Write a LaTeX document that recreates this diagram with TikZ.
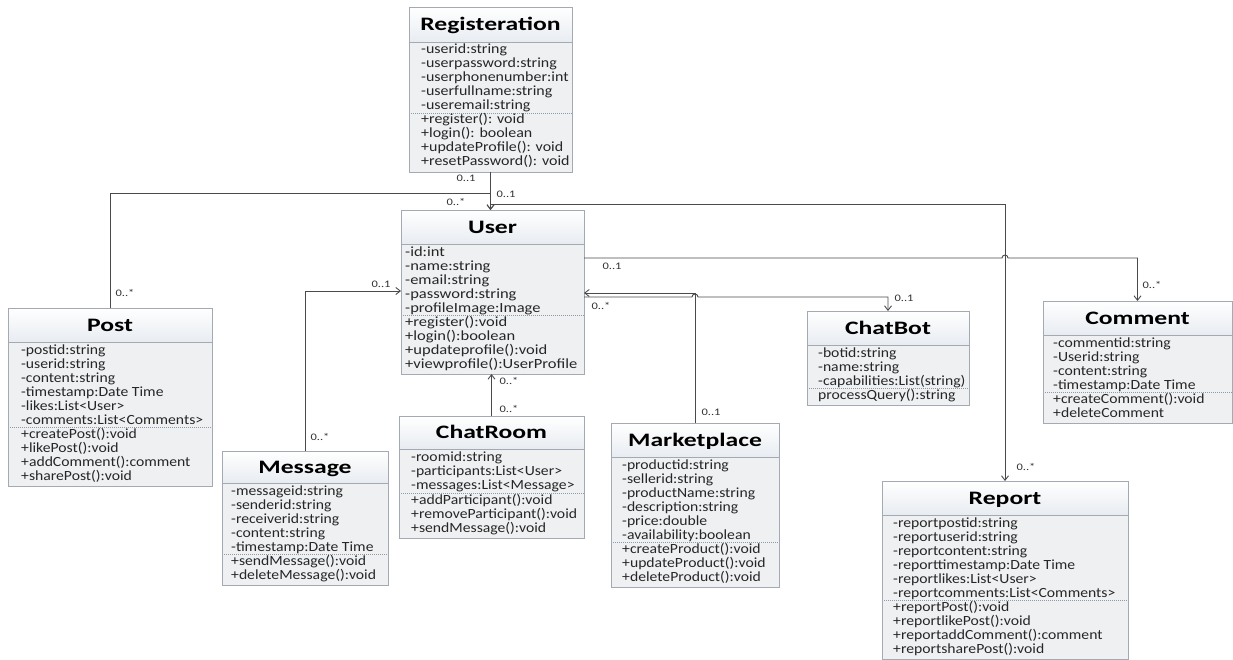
\documentclass[tikz,border=0pt]{standalone}
\usepackage{fontspec}
\setmainfont{Carlito}
\newfontfamily\memberfont[FakeStretch=1.12]{Carlito}
\newfontfamily\memberfontwide[FakeStretch=1.18]{Carlito}
\newfontfamily\memberfontreg[FakeStretch=1.14]{Carlito}
\newfontfamily\headfont[FakeStretch=1.35]{Carlito}
\newfontfamily\multfont[FakeStretch=1.25]{Carlito}
\usetikzlibrary{arrows.meta}

\definecolor{boxline}{HTML}{A3AAB3}
\definecolor{bodyfill}{HTML}{EEF0F2}
\definecolor{headfill}{HTML}{E8ECF1}
\definecolor{sepline}{HTML}{8E9AAA}
\definecolor{wire}{HTML}{4A4A4A}
\definecolor{membertext}{HTML}{262626}
\definecolor{multtext}{HTML}{333333}

% font used for the member lines of the class being drawn
\let\curmemberfont\memberfont

\tikzset{
  classbody/.style={rectangle, fill=bodyfill, draw=none, inner sep=0pt, outer sep=0pt},
  classframe/.style={draw=boxline, line width=0.8pt},
  headtext/.style={font=\headfont\bfseries\fontsize{19}{19}\selectfont,
    text height=12.2pt, text depth=0pt, inner sep=0pt, text=black},
  member/.style={font=\curmemberfont\fontsize{14}{14}\selectfont,
    inner sep=0pt, text=membertext, anchor=base west},
  mult/.style={font=\multfont\fontsize{10}{10}\selectfont, inner sep=0pt, text=multtext},
  assoc/.style={draw=wire, line width=0.9pt, -{Straight Barb[length=4.5pt,width=7pt]}},
  sepdots/.style={draw=sepline, line width=0.7pt, dash pattern=on 1pt off 1pt},
}

% geometry: name, left, top, right, head bottom, separator, bottom, text inset
\def\umlparse#1,#2,#3,#4,#5,#6,#7,#8\relax{%
  \def\cname{#1}\def\cL{#2}\def\cT{#3}\def\cR{#4}%
  \def\cTB{#5}\def\cS{#6}\def\cB{#7}\def\cI{#8}}
\newcommand\umlclass[4]{%
  \umlparse#1\relax
  \pgfmathsetmacro\cW{\cR-\cL}%
  \pgfmathsetmacro\cH{\cB-\cT}%
  \node[classbody, anchor=north west, minimum width=\cW pt, minimum height=\cH pt]
    (\cname) at (\cL,-\cT) {};
  \shade[top color=white, bottom color=headfill] (\cL,-\cT) rectangle (\cR,-\cTB);
  \draw[draw=boxline, line width=0.6pt] (\cL,-\cTB) -- (\cR,-\cTB);
  \draw[sepdots] (\cL,-\cS) -- (\cR,-\cS);
  \draw[classframe] (\cname.north west) rectangle (\cname.south east);
  \node[headtext] (\cname-head) at ({(\cL+\cR)/2},{-(\cT+\cTB)/2}) {#2};
  \foreach \m [count=\k] in {#3} {%
    \node[member] (\cname-a\k) at ({\cL+\cI},{-(\cTB+12+14*(\k-1))}) {\m};}
  \foreach \m [count=\k] in {#4} {%
    \node[member] (\cname-o\k) at ({\cL+\cI},{-(\cS+11+14*(\k-1))}) {\m};}
}

\begin{document}
\begin{tikzpicture}[x=1pt, y=1pt]
\useasboundingbox (0,0) rectangle (1233,-660);
\fill[white] (0,0) rectangle (1233,-660);

% ---- classes ----
\let\curmemberfont\memberfontreg
\umlclass{reg,409,7,572,42,113,172,12}{Registeration}
  {-userid:string,-userpassword:string,-userphonenumber:int,-userfullname:string,-useremail:string}
  {+register(): void,+login(): boolean,+updateProfile(): void,+resetPassword(): void}

\let\curmemberfont\memberfontwide
\umlclass{user,401,210,584,244,315,374,4}{User}
  {-id:int,-name:string,-email:string,-password:string,-profileImage:Image}
  {+register():void,+login():boolean,+updateprofile():void,+viewprofile():UserProfile}

\let\curmemberfont\memberfont
\umlclass{post,8,308,212,342,427,486,13}{Post}
  {-postid:string,-userid:string,-content:string,-timestamp:Date Time,-likes:List<User>,-comments:List<Comments>}
  {+createPost():void,+likePost():void,+addComment():comment,+sharePost():void}

\umlclass{message,222,451,388,483,554,585,9}{Message}
  {-messageid:string,-senderid:string,-receiverid:string,-content:string,-timestamp:Date Time}
  {+sendMessage():void,+deleteMessage():void}

\umlclass{chatroom,399,416,584,449,493,538,12}{ChatRoom}
  {-roomid:string,-participants:List<User>,-messages:List<Message>}
  {+addParticipant():void,+removeParticipant():void,+sendMessage():void}

\umlclass{market,611,423,779,457,542,587,11}{Marketplace}
  {-productid:string,-sellerid:string,-productName:string,-description:string,-price:double,-availability:boolean}
  {+createProduct():void,+updateProduct():void,+deleteProduct():void}

\umlclass{chatbot,807,311,969,345,388,405,11}{ChatBot}
  {-botid:string,-name:string,-capabilities:List(string)}
  {processQuery():string}

\umlclass{comment,1043,301,1232,335,392,423,10}{Comment}
  {-commentid:string,-Userid:string,-content:string,-timestamp:Date Time}
  {+createComment():void,+deleteComment}

\umlclass{report,882,481,1128,515,600,659,11}{Report}
  {-reportpostid:string,-reportuserid:string,-reportcontent:string,-reporttimestamp:Date Time,-reportlikes:List<User>,-reportcomments:List<Comments>}
  {+reportPost():void,+reportlikePost():void,+reportaddComment():comment,+reportsharePost():void}

% ---- associations ----
\coordinate (jreport) at (490,-204);
\draw[assoc] (reg.south) -- (reg.south |- user.north);
\draw[assoc] (post.north) |- (reg.south |- 0,-193) -- (reg.south |- user.north);
\draw[assoc] (jreport) -| (report.north);
\draw[assoc] (user.east |- 0,-258) -- (1002,-258)
  arc[start angle=180, end angle=0, radius=3] -| (comment.north);
\draw[assoc] (market.north) |- (user.east |- 0,-293);
\draw[assoc] (user.east |- 0,-297) -- (692,-297)
  arc[start angle=180, end angle=0, radius=3] -| (chatbot.north);
\draw[assoc] (message.north) |- (user.west |- 0,-291);
\draw[assoc] (chatroom.north) -- (chatroom.north |- user.south);

% ---- multiplicities ----
\node[mult] (m-reg) at (466,-178) {0..1};
\node[mult] (m-user-top) at (506,-194) {0..1};
\node[mult] (m-user-post) at (456,-202) {0..*};
\node[mult] (m-post) at (125,-293) {0..*};
\node[mult] (m-user-msg) at (381,-284) {0..1};
\node[mult] (m-msg) at (320,-437) {0..*};
\node[mult] (m-user-room) at (509,-381) {0..*};
\node[mult] (m-room) at (509,-409) {0..*};
\node[mult] (m-user-cmt) at (612,-266) {0..1};
\node[mult] (m-user-mkt) at (601,-306) {0..*};
\node[mult] (m-mkt) at (711,-412) {0..1};
\node[mult] (m-bot) at (904,-298) {0..1};
\node[mult] (m-cmt) at (1152,-285) {0..*};
\node[mult] (m-rep) at (1026,-467) {0..*};
\end{tikzpicture}
\end{document}
